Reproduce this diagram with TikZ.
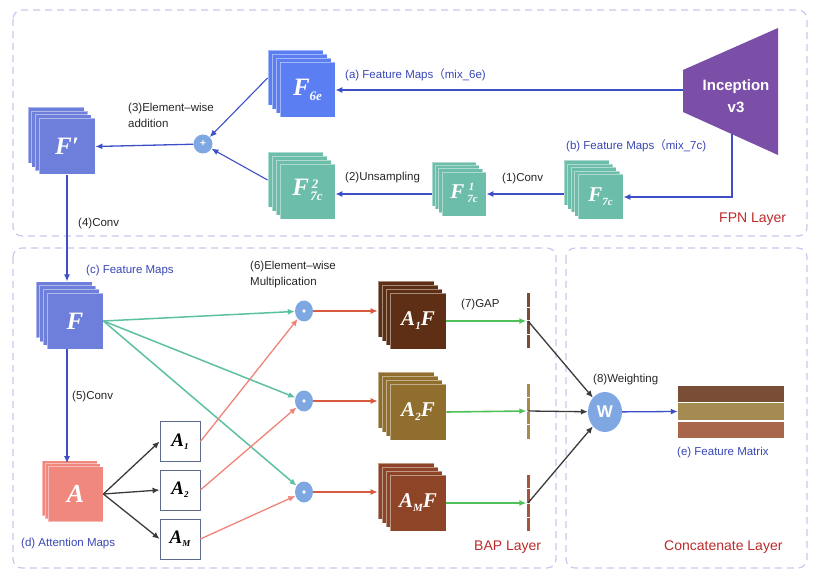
\documentclass[tikz,border=0pt]{standalone}
\usepackage{fontspec}
\setmainfont{Liberation Sans}
\newfontfamily\tmsfont{Liberation Serif}
\newfontfamily\cjk{Noto Sans CJK SC}
\usetikzlibrary{arrows.meta,shapes.geometric,calc}

\definecolor{lyr}{HTML}{C8C8EE}
\definecolor{fsix}{HTML}{5B7FF3}
\definecolor{fprm}{HTML}{6D7FDB}
\definecolor{fsev}{HTML}{6CBDAA}
\definecolor{aatt}{HTML}{F0887E}
\definecolor{aonef}{HTML}{5E2F14}
\definecolor{atwof}{HTML}{8F6E2E}
\definecolor{amf}{HTML}{8E4427}
\definecolor{incep}{HTML}{7B4FA8}
\definecolor{dotc}{HTML}{7FA8E2}
\definecolor{arrblue}{HTML}{3C4FC7}
\definecolor{lblue}{HTML}{3846B5}
\definecolor{lred}{HTML}{BC2A2A}
\definecolor{tealarr}{HTML}{5CC0A2}
\definecolor{salarr}{HTML}{F08378}
\definecolor{orarr}{HTML}{D95A3C}
\definecolor{grarr}{HTML}{4FC05A}
\definecolor{darr}{HTML}{3A3A3A}
\definecolor{barone}{HTML}{7B4B33}
\definecolor{bartwo}{HTML}{A68B4C}
\definecolor{barm}{HTML}{A2573A}
\definecolor{fmone}{HTML}{7A4E36}
\definecolor{fmtwo}{HTML}{A38B52}
\definecolor{fmthree}{HTML}{A8664B}
\definecolor{boxd}{HTML}{5C6B8C}

% bold italic serif letters
\newcommand{\bis}[2]{{\fontsize{#1}{#1}\selectfont\tmsfont\bfseries\itshape #2}}
% superscript over subscript, as one block
\newcommand{\supsub}[4]{\hspace{1.5pt}\raisebox{#4}{\renewcommand{\arraystretch}{1}\begin{tabular}[b]{@{}l@{}}\hspace{1.5pt}\bis{#1}{#2}\\\bis{#1}{#3}\end{tabular}}}

\tikzset{
  layer/.style={draw=lyr, line width=1.2pt, dash pattern=on 7pt off 5pt, rounded corners=9pt},
  mapsq/.style={draw=white, draw opacity=0.45, line width=0.8pt, inner sep=0pt, text=white},
  lbl/.style={anchor=west, inner sep=0pt, text=black!85, align=left, font=\fontsize{11.5}{16}\selectfont},
  blbl/.style={lbl, text=lblue},
  rlbl/.style={anchor=west, inner sep=0pt, text=lred, font=\fontsize{14}{16}\selectfont},
  dotnode/.style={ellipse, fill=dotc, minimum width=18pt, minimum height=21pt, inner sep=0pt},
  abox/.style={draw=boxd, line width=0.8pt, fill=white, minimum size=40pt, inner sep=0pt},
  gapbar/.style={minimum width=3pt, inner sep=0pt},
  fmbar/.style={minimum width=106pt, minimum height=16.5pt, inner sep=0pt},
  tip/.style={-{Latex[length=7pt,width=6pt]}},
  bluearr/.style={tip, draw=arrblue, line width=1.3pt},
  tealline/.style={tip, draw=tealarr, line width=1.5pt},
  salline/.style={tip, draw=salarr, line width=1.3pt},
  orline/.style={tip, draw=orarr, line width=1.2pt},
  grline/.style={tip, draw=grarr, line width=1.6pt},
  darkline/.style={tip, draw=darr, line width=1.3pt},
}

% stack of feature maps: name, x, y, size, back layers, offset, colour, label
\newcommand{\mapstack}[8]{%
  \foreach \k in {#5,...,1}
    \node[mapsq, fill=#7, minimum size=#4pt] (#1-\k) at (#2-\k*#6, #3-\k*#6) {};
  \node[mapsq, fill=#7, minimum size=#4pt] (#1) at (#2,#3) {#8};
}

\begin{document}
\begin{tikzpicture}[x=1pt,y=-1pt]
  \useasboundingbox (0,0) rectangle (820,580);
  \draw[layer] (13,10) rectangle (807,236);
  \draw[layer] (13,248) rectangle (556,568);
  \draw[layer] (566,248) rectangle (807,568);

  % FPN layer
  \fill[incep] (683,70) -- (778,28) -- (778,155) -- (683,112) -- cycle;
  \node[text=white, align=center, font=\fontsize{15}{22}\selectfont\bfseries] (inc) at (736,96) {Inception\\v3};
  \coordinate (inc-a) at (683,90);
  \coordinate (inc-b) at (732,134);

  \mapstack{F6e}{307.5}{90}{55}{3}{4}{fsix}{\bis{25}{F}\raisebox{-5pt}{\bis{13}{6e}}}
  \mapstack{F7c}{600.5}{197}{45}{4}{3.5}{fsev}{\bis{21}{F}\raisebox{-4pt}{\bis{11}{7c}}}
  \mapstack{F7ci}{464}{194}{44}{3}{3.3}{fsev}{\bis{21}{F}\hspace{1.5pt}\supsub{11}{1}{7c}{-4pt}}
  \mapstack{F7cii}{307.5}{192}{55}{3}{4}{fsev}{\bis{25}{F}\supsub{13}{2}{7c}{-5pt}}
  \mapstack{Fp}{67}{146.5}{56}{3}{3.7}{fprm}{\bis{25}{F\symbol{"2032}}}
  \node[circle, fill=dotc, minimum size=19pt, inner sep=0pt, text=white, font=\bfseries] (plus) at (203,144) {+};

  \draw[bluearr] (inc-a) -- (F6e.east);
  \draw[bluearr] (inc-b) |- (F7c.east);
  \draw[bluearr] (F7c-4.west |- F7ci.center) -- (F7ci.east);
  \draw[bluearr] (F7ci-3.west |- F7ci.center) -- (F7cii.east |- F7ci.center);
  \draw[bluearr, line width=1.1pt] (F6e-3.west) -- (plus);
  \draw[bluearr, line width=1.1pt] (F7cii-3.west) -- (plus);
  \draw[bluearr] (plus) -- (Fp.east);

  \node[blbl] (la) at (345,75) {(a) Feature Maps{\cjk （}mix\_6e)};
  \node[blbl] (lb) at (566,146) {(b) Feature Maps{\cjk （}mix\_7c)};
  \node[lbl] (l1) at (502,179) {(1)Conv};
  \node[lbl] (l2) at (345,178) {(2)Unsampling};
  \node[lbl] (l3) at (128,115.5) {(3)Element–wise\\addition};
  \node[lbl] (l4) at (78,224) {(4)Conv};
  \node[rlbl] (fpn) at (719,219) {FPN Layer};

  % BAP layer
  \mapstack{F}{75}{321}{56}{3}{3.7}{fprm}{\bis{25}{F}}
  \mapstack{A}{75.5}{494}{55}{2}{3}{aatt}{\bis{26}{A}}
  \draw[bluearr] (Fp.south) -- (Fp.south |- F-3.north);
  \draw[bluearr] (Fp.south |- F.south) -- (Fp.south |- A-1.north);

  \node[abox] (A1) at (180,441.5) {\bis{19}{A}\raisebox{-3pt}{\bis{9}{1}}};
  \node[abox] (A2) at (180,490) {\bis{19}{A}\raisebox{-3pt}{\bis{9}{2}}};
  \node[abox] (AM) at (180,539) {\bis{19}{A}\raisebox{-3pt}{\bis{9}{M}}};
  \draw[darkline] (A.east) -- (A1.west);
  \draw[darkline] (A.east) -- (A2.west);
  \draw[darkline] (A.east) -- (AM.west);

  \node[dotnode] (d1) at (304,311) {};
  \node[dotnode] (d2) at (304,401) {};
  \node[dotnode] (d3) at (304,492) {};
  \foreach \i in {1,2,3}
    \fill[white] (d\i) circle (1.8pt);
  \draw[tealline] (F.east) -- (d1);
  \draw[tealline] (F.east) -- (d2);
  \draw[tealline] (F.east) -- (d3);
  \draw[salline] (A1.east) -- (d1);
  \draw[salline] (A2.east) -- (d2);
  \draw[salline] (AM.east) -- (d3);

  \mapstack{A1F}{418}{321}{56}{3}{4}{aonef}{\bis{21}{A}\raisebox{-4pt}{\bis{11}{1}}\bis{21}{F}}
  \mapstack{A2F}{418}{412}{56}{3}{4}{atwof}{\bis{21}{A}\raisebox{-4pt}{\bis{11}{2}}\bis{21}{F}}
  \mapstack{AMF}{418}{503}{56}{3}{4}{amf}{\bis{21}{A}\raisebox{-4pt}{\bis{11}{M}}\bis{21}{F}}
  \draw[orline] (d1) -- (A1F-3.west |- d1);
  \draw[orline] (d2) -- (A2F-3.west |- d2);
  \draw[orline] (d3) -- (AMF-3.west |- d3);

  \node[gapbar, fill=barone, minimum height=55pt] (g1) at (528,321) {};
  \node[gapbar, fill=bartwo, minimum height=55pt] (g2) at (528,411) {};
  \node[gapbar, fill=barm, minimum height=56pt] (g3) at (528,503) {};
  \foreach \g in {g1,g2,g3}
    \foreach \f in {0.25,0.5,0.75}
      \draw[white, line width=1pt] ($(\g.north west)!\f!(\g.south west)$) -- ($(\g.north east)!\f!(\g.south east)$);
  \draw[grline] (A1F.east) -- (g1);
  \draw[grline] (A2F.east) -- (g2);
  \draw[grline] (AMF.east) -- (g3);

  \node[lbl] (l5) at (72,397) {(5)Conv};
  \node[lbl] (l6) at (250,275) {(6)Element–wise\\Multiplication};
  \node[lbl] (l7) at (461,305) {(7)GAP};
  \node[blbl] (lc) at (86,271) {(c) Feature Maps};
  \node[blbl] (ld) at (21,544) {(d) Attention Maps};
  \node[rlbl] (bap) at (474,547) {BAP Layer};

  % Concatenate layer
  \node[ellipse, fill=dotc, minimum width=34pt, minimum height=40pt, inner sep=0pt, text=white, font=\fontsize{17}{17}\selectfont\bfseries] (W) at (605,412) {W};
  \draw[darkline] (g1.center) -- (W);
  \draw[darkline] (g2.center) -- (W);
  \draw[darkline] (g3.center) -- (W);
  \node[fmbar, fill=fmone] (fm1) at (731,394) {};
  \node[fmbar, fill=fmtwo] (fm2) at (731,411.5) {};
  \node[fmbar, fill=fmthree] (fm3) at (731,430) {};
  \draw[bluearr] (W) -- (fm2.west);

  \node[lbl] (l8) at (593,380) {(8)Weighting};
  \node[blbl] (le) at (677,453) {(e) Feature Matrix};
  \node[rlbl] (cat) at (664,547) {Concatenate Layer};
\end{tikzpicture}
\end{document}
